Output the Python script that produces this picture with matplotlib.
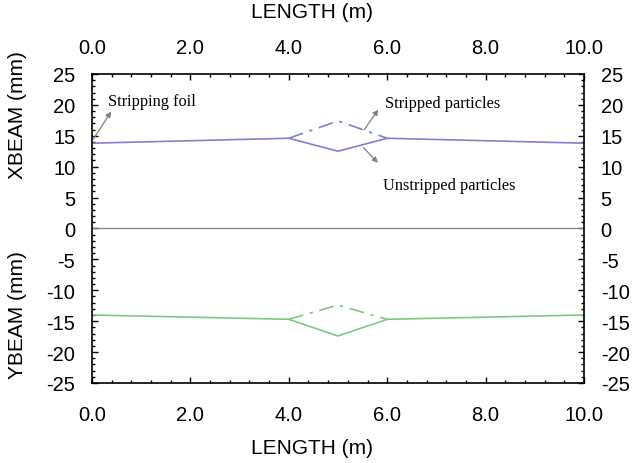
import matplotlib
matplotlib.use("Agg")
import matplotlib.pyplot as plt
from matplotlib.ticker import MultipleLocator, FormatStrFormatter

# beam centroid along the foil region
length_m = [0.0, 4.0, 5.0, 6.0, 10.0]
xbeam_unstripped = [13.8, 14.6, 12.5, 14.6, 13.8]
xbeam_stripped = [13.8, 14.6, 17.4, 14.6, 13.8]
ybeam_unstripped = [-14.0, -14.7, -17.4, -14.7, -14.0]
ybeam_stripped = [-14.0, -14.7, -12.4, -14.7, -14.0]
x_ticks = [0, 2, 4, 6, 8, 10]

# x points for the dashed (stripped) branch only
seg = slice(1, 4)

BLUE = "#8080d0"
GREEN = "#80c880"
TICK_FS = 14.5
LABEL_FS = 15

plt.rcParams["font.family"] = ["Liberation Sans", "DejaVu Sans"]
plt.rcParams["axes.unicode_minus"] = False

fig = plt.figure(figsize=(6.33, 4.64), dpi=100)
ax = fig.add_axes([0.1453, 0.1725, 0.7773, 0.6659])

dashdot = (0, (9, 4, 2, 4))
ax.plot(length_m, xbeam_unstripped, color=BLUE, lw=1.2)
ax.plot(length_m[seg], xbeam_stripped[seg], color=BLUE, lw=1.2, ls=dashdot)
ax.plot(length_m, ybeam_unstripped, color=GREEN, lw=1.2)
ax.plot(length_m[seg], ybeam_stripped[seg], color=GREEN, lw=1.2, ls=dashdot)
ax.axhline(0, color="#808080", lw=0.9)

ax.set_xlim(0, 10)
ax.set_ylim(-25, 25)
ax.xaxis.set_major_locator(MultipleLocator(2))
ax.xaxis.set_minor_locator(MultipleLocator(0.4))
ax.xaxis.set_major_formatter(FormatStrFormatter("%.1f"))
ax.yaxis.set_major_locator(MultipleLocator(5))
ax.yaxis.set_minor_locator(MultipleLocator(1))
ax.tick_params(which="both", direction="in", top=True, right=True,
               labelright=True, labelsize=TICK_FS, width=1.0)
ax.tick_params(which="major", length=4)
ax.tick_params(which="minor", length=2.5)
ax.tick_params(axis="x", which="major", pad=16)
ax.tick_params(axis="y", which="major", pad=12)
for sp in ax.spines.values():
    sp.set_linewidth(1.2)

# top tick labels sit closer to the frame than the bottom ones
top = ax.secondary_xaxis("top")
top.set_xticks(x_ticks)
top.xaxis.set_major_formatter(FormatStrFormatter("%.1f"))
top.tick_params(length=0, pad=12, labelsize=TICK_FS)
top.spines["top"].set_visible(False)

fig.text(0.493, 0.972, "LENGTH (m)", ha="center", va="center", fontsize=LABEL_FS)
fig.text(0.493, 0.034, "LENGTH (m)", ha="center", va="center", fontsize=LABEL_FS)
fig.text(0.027, 0.752, "XBEAM (mm)", rotation=90, ha="center", va="center", fontsize=LABEL_FS)
fig.text(0.027, 0.322, "YBEAM (mm)", rotation=90, ha="center", va="center", fontsize=LABEL_FS)

arrow = dict(arrowstyle="-|>", color="#808080", lw=0.9, mutation_scale=8)
serif = ["Liberation Serif", "DejaVu Serif"]
ann_fs = 11.8
ax.annotate("", xy=(0.42, 19.3), xytext=(0.0, 14.1), arrowprops=arrow)
ax.text(0.33, 20.6, "Stripping foil", family=serif, fontsize=ann_fs, va="center")
ax.annotate("", xy=(5.85, 19.6), xytext=(5.5, 15.6), arrowprops=arrow)
ax.text(5.95, 20.3, "Stripped particles", family=serif, fontsize=ann_fs, va="center")
ax.annotate("", xy=(5.85, 10.3), xytext=(5.48, 13.4), arrowprops=arrow)
ax.text(5.92, 7.1, "Unstripped particles", family=serif, fontsize=ann_fs, va="center")

fig.savefig("out.png", dpi=100)
